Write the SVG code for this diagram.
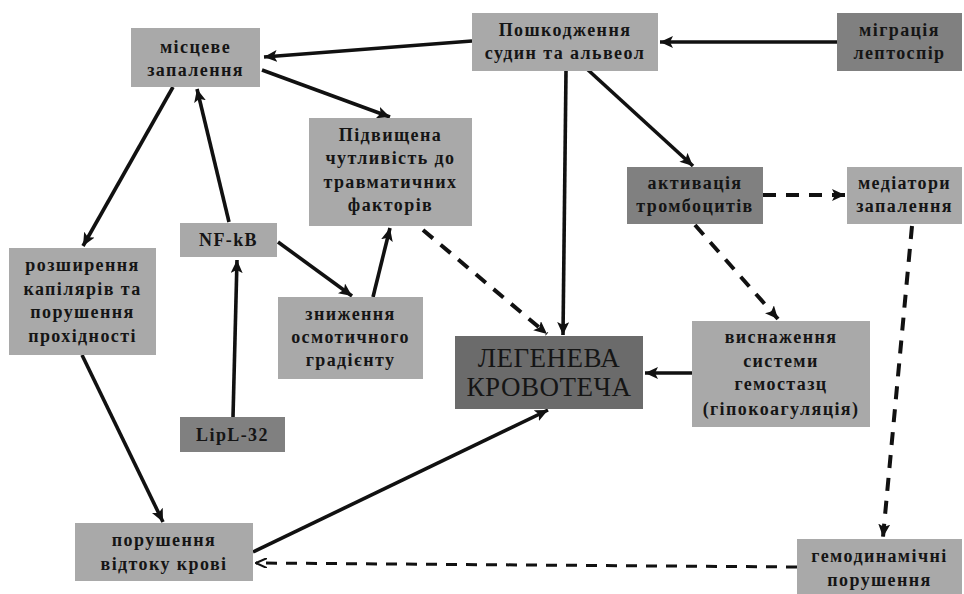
<svg xmlns="http://www.w3.org/2000/svg" width="964" height="594" viewBox="0 0 964 594">
<defs>
<style>
.bl{fill:#a9a9a9}
.bd{fill:#808080}
.bx{fill:#6b6b6b}
text{font-family:"Liberation Serif","Times New Roman",serif;font-weight:bold;font-size:18px;fill:#151515;text-anchor:middle;letter-spacing:1.4px}
text.big{font-weight:normal;font-size:27px;letter-spacing:0.5px}
.c{fill:none;stroke:#111;stroke-width:3.6}
.d{fill:none;stroke:#111;stroke-width:4;stroke-dasharray:13 10}
.t{fill:none;stroke:#111;stroke-width:3;stroke-dasharray:11 9}
</style>
<marker id="a" markerUnits="userSpaceOnUse" markerWidth="14" markerHeight="12" refX="13" refY="6" orient="auto"><path d="M0,0 L13,6 L0,12 L3,6 Z" fill="#111"/></marker>
<marker id="s" markerUnits="userSpaceOnUse" markerWidth="12" markerHeight="10" refX="11" refY="5" orient="auto"><path d="M0,0 L11,5 L0,10" fill="none" stroke="#111" stroke-width="2"/></marker>
</defs>
<rect width="964" height="594" fill="#fff"/>
<g id="connectors">
<path class="c" d="M472,41 L264,57" marker-end="url(#a)"/>
<path class="c" d="M262,70 L390,117" marker-end="url(#a)"/>
<path class="c" d="M173,87 L83,246" marker-end="url(#a)"/>
<path class="c" d="M229,222 L197,89" marker-end="url(#a)"/>
<path class="c" d="M278,242 L352,296" marker-end="url(#a)"/>
<path class="c" d="M373,297 L390,228" marker-end="url(#a)"/>
<path class="c" d="M233,417 L237,260" marker-end="url(#a)"/>
<path class="c" d="M82,355 L163,522" marker-end="url(#a)"/>
<path class="c" d="M253,552 L548,410" marker-end="url(#a)"/>
<path class="t" d="M797,567 L256,563" marker-end="url(#s)"/>
<path class="c" d="M566,71 L563,335" marker-end="url(#a)"/>
<path class="d" d="M423,230 L547,334" marker-end="url(#a)"/>
<path class="c" d="M587,69 L693,166" marker-end="url(#a)"/>
<path class="c" d="M837,42 L660,42" marker-end="url(#a)"/>
<path class="d" d="M763,195 L845,195" marker-end="url(#a)"/>
<path class="d" d="M695,225 L778,319" marker-end="url(#a)"/>
<path class="d" d="M912,226 L883,537" marker-end="url(#a)"/>
<path class="c" d="M692,373 L645,373" marker-end="url(#a)"/>
</g>
<g id="n_mistseve"><rect class="bl" x="131" y="28" width="129" height="59"/><text x="195.5" y="52.5">місцеве</text><text x="195.5" y="75.5">запалення</text></g>
<g id="n_poshkodzhennia"><rect class="bl" x="472" y="13" width="186" height="58"/><text x="565" y="36">Пошкодження</text><text x="565" y="59">судин та альвеол</text></g>
<g id="n_mihratsiia"><rect class="bd" x="837" y="13" width="125" height="58"/><text x="899.5" y="36">міграція</text><text x="899.5" y="59">лептоспір</text></g>
<g id="n_pidvyshchena"><rect class="bl" x="309" y="118" width="163" height="108"/><text x="390.5" y="141">Підвищена</text><text x="390.5" y="164">чутливість до</text><text x="390.5" y="188">травматичних</text><text x="390.5" y="211">факторів</text></g>
<g id="n_aktyvatsiia"><rect class="bd" x="627" y="167" width="136" height="57"/><text x="695" y="189">активація</text><text x="695" y="212">тромбоцитів</text></g>
<g id="n_mediatory"><rect class="bl" x="847" y="167" width="115" height="57"/><text x="904.5" y="189">медіатори</text><text x="904.5" y="212">запалення</text></g>
<g id="n_nfkb"><rect class="bl" x="180" y="223" width="97" height="34"/><text x="228.5" y="246">NF-kB</text></g>
<g id="n_rozshyrennia"><rect class="bl" x="9" y="248" width="147" height="107"/><text x="82.5" y="271">розширення</text><text x="82.5" y="295">капілярів та</text><text x="82.5" y="318">порушення</text><text x="82.5" y="342">прохідності</text></g>
<g id="n_znyzhennia"><rect class="bl" x="278" y="297" width="145" height="82"/><text x="350.5" y="320">зниження</text><text x="350.5" y="343">осмотичного</text><text x="350.5" y="366">градієнту</text></g>
<g id="n_lehenева"><rect class="bx" x="455" y="336" width="188" height="73"/><text class="big" x="549" y="367">ЛЕГЕНЕВА</text><text class="big" x="549" y="396">КРОВОТЕЧА</text></g>
<g id="n_vysnazhennia"><rect class="bl" x="692" y="321" width="178" height="106"/><text x="781" y="343">виснаження</text><text x="781" y="367">системи</text><text x="781" y="390">гемостазц</text><text x="781" y="415">(гіпокоагуляція)</text></g>
<g id="n_lipl32"><rect class="bd" x="180" y="417" width="105" height="35"/><text x="232.5" y="441">LipL-32</text></g>
<g id="n_porushennia"><rect class="bl" x="75" y="523" width="178" height="58"/><text x="164" y="546">порушення</text><text x="164" y="570">відтоку крові</text></g>
<g id="n_hemodynamichni"><rect class="bl" x="797" y="539" width="165" height="55"/><text x="879.5" y="562">гемодинамічні</text><text x="879.5" y="586">порушення</text></g>
</svg>
